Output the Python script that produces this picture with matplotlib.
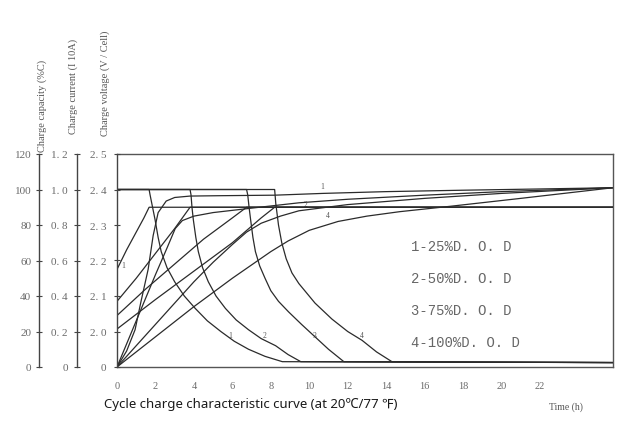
import numpy as np
import matplotlib
matplotlib.use("Agg")
import matplotlib.pyplot as plt

W, H = 643, 427
PX = 0.72  # points per pixel at dpi 100

# ---- data (hours, native units) ----
T_END = 25.8

# charge current (I10A)
cur1_t = [0, 1.67, 1.72, 1.85, 1.98, 2.14, 2.3, 2.6, 3.0, 3.5, 4.07, 4.7, 5.4, 6.1, 6.84, 7.7, 8.6, T_END]
cur1_i = [1.0, 1.0, 0.97, 0.9, 0.83, 0.73, 0.65, 0.56, 0.48, 0.40, 0.33, 0.26, 0.20, 0.145, 0.10, 0.06, 0.03, 0.025]
cur2_t = [0, 3.8, 3.85, 3.9, 3.97, 4.1, 4.23, 4.45, 4.75, 5.15, 5.64, 6.2, 6.84, 7.5, 8.25, 8.9, 9.56, T_END]
cur2_i = [1.0, 1.0, 0.97, 0.9, 0.83, 0.73, 0.65, 0.56, 0.48, 0.40, 0.33, 0.265, 0.21, 0.16, 0.12, 0.07, 0.03, 0.025]
cur3_t = [0, 6.74, 6.8, 6.87, 6.95, 7.07, 7.2, 7.42, 7.7, 8.0, 8.4, 8.93, 9.6, 10.3, 11.0, 11.8, T_END]
cur3_i = [1.0, 1.0, 0.97, 0.9, 0.83, 0.73, 0.65, 0.57, 0.50, 0.43, 0.37, 0.31, 0.24, 0.17, 0.10, 0.03, 0.025]
cur4_t = [0, 8.2, 8.26, 8.4, 8.57, 8.8, 9.1, 9.46, 10.3, 11.18, 12.0, 12.75, 13.5, 14.3, T_END]
cur4_i = [1.0, 1.0, 0.92, 0.8, 0.70, 0.61, 0.53, 0.47, 0.36, 0.27, 0.20, 0.15, 0.085, 0.03, 0.025]

# charge voltage (V/cell)
volt1_t = [0, 0.5, 1.0, 1.4, 1.67, T_END]
volt1_v = [2.175, 2.23, 2.28, 2.32, 2.35, 2.35]
volt2_t = [0, 1.0, 2.0, 3.0, 3.8, T_END]
volt2_v = [2.085, 2.15, 2.22, 2.29, 2.35, 2.35]
volt3_t = [0, 1.5, 3.0, 4.5, 6.0, 6.74, T_END]
volt3_v = [2.045, 2.12, 2.19, 2.26, 2.32, 2.35, 2.35]
volt4_t = [0, 2.0, 4.0, 6.0, 7.5, 8.2, T_END]
volt4_v = [2.007, 2.09, 2.17, 2.25, 2.32, 2.35, 2.35]

# charge capacity (%C)
cap1_t = [0, 0.5, 0.94, 1.25, 1.62, 1.88, 2.14, 2.56, 3.0, 3.8, 5.3, 8.2, 10.7, 14, 18, 22, T_END]
cap1_c = [0, 9, 21, 37, 55, 74, 87, 93.5, 95.5, 96.3, 96.5, 96.8, 97.8, 98.8, 99.6, 100.3, 101]
cap2_t = [0, 1, 2, 2.6, 3.03, 3.4, 4, 5, 7, 9.46, 12, 16, 20, T_END]
cap2_c = [0, 26, 52, 67, 78, 82.5, 85, 87, 89.5, 92.5, 94.5, 96.8, 98.8, 101]
cap3_t = [0, 1, 2, 3, 4, 5, 6, 6.74, 7.5, 8.5, 9.46, 12, 16, 20, T_END]
cap3_c = [0, 12, 24, 36, 48, 59, 69, 76, 81, 85, 88, 91.5, 95, 97.8, 101]
cap4_t = [0, 2, 4, 6, 8, 8.9, 10, 11.5, 13, 14.7, 17.3, 21, T_END]
cap4_c = [0, 17, 34, 50, 65, 71, 77, 82, 85, 87.5, 90.5, 95, 101]

X_TICKS = list(range(0, 23, 2))
CAP_TICKS = [0, 20, 40, 60, 80, 100, 120]
CAP_LABELS = ["0", "20", "40", "60", "80", "100", "120"]
CUR_TICKS = [0, 0.2, 0.4, 0.6, 0.8, 1.0, 1.2]
CUR_LABELS = ["0", "0. 2", "0. 4", "0. 6", "0. 8", "1. 0", "1. 2"]
VOLT_TICKS = [0, 2.0, 2.1, 2.2, 2.3, 2.4, 2.5]
VOLT_LABELS = ["0", "2. 0", "2. 1", "2. 2", "2. 3", "2. 4", "2. 5"]
LEGEND = ["1-25%D. O. D", "2-50%D. O. D", "3-75%D. O. D", "4-100%D. O. D"]


def v_fwd(v):
    v = np.asarray(v, dtype=float)
    return np.where(v >= 2.0, 20 + (v - 2.0) * 200, v * 10)


def v_inv(p):
    p = np.asarray(p, dtype=float)
    return np.where(p >= 20, 2.0 + (p - 20) / 200, p / 10)


LINE = "#2b2b2b"
TXT = "#6a6a6a"
LW = 0.9

fig = plt.figure(figsize=(W / 100, H / 100), dpi=100)
rect = [117 / W, 1 - 368 / H, 496 / W, 213 / H]

ax = fig.add_axes(rect)
ax_i = fig.add_axes(rect, sharex=ax)
ax_v = fig.add_axes(rect, sharex=ax)
for a in (ax_i, ax_v):
    a.patch.set_visible(False)
    a.xaxis.set_visible(False)
    for s in ("top", "right", "bottom"):
        a.spines[s].set_visible(False)

ax.set_xlim(0, T_END)
ax.set_ylim(0, 120)
ax_i.set_ylim(0, 1.2)
ax_v.set_yscale("function", functions=(v_fwd, v_inv))
ax_v.set_ylim(0, 2.5)

for t, c in [(cap1_t, cap1_c), (cap2_t, cap2_c), (cap3_t, cap3_c), (cap4_t, cap4_c)]:
    ax.plot(t, c, color=LINE, lw=LW)
for t, i in [(cur1_t, cur1_i), (cur2_t, cur2_i), (cur3_t, cur3_i), (cur4_t, cur4_i)]:
    ax_i.plot(t, i, color=LINE, lw=LW)
for t, v in [(volt1_t, volt1_v), (volt2_t, volt2_v), (volt3_t, volt3_v), (volt4_t, volt4_v)]:
    ax_v.plot(t, v, color=LINE, lw=LW)

# axes styling
for a, ticks, labels, off, pad in [
    (ax, CAP_TICKS, CAP_LABELS, 78, 3),
    (ax_i, CUR_TICKS, CUR_LABELS, 40, 4),
    (ax_v, VOLT_TICKS, VOLT_LABELS, 0, 5),
]:
    a.spines["left"].set_position(("outward", off * PX))
    a.spines["left"].set_color("#444444")
    a.spines["left"].set_linewidth(1.0)
    a.set_yticks(ticks)
    a.set_yticklabels(labels, family="Liberation Serif", fontsize=8, color=TXT)
    a.yaxis.set_minor_locator(plt.NullLocator())
    a.tick_params(axis="y", direction="inout", length=5, width=0.8, color="#444444", pad=pad)

for s in ("top", "right", "bottom"):
    ax.spines[s].set_color("#555555")
    ax.spines[s].set_linewidth(1.0)
ax.set_xticks(X_TICKS)
ax.set_xticklabels([str(x) for x in X_TICKS], family="Liberation Serif", fontsize=7.5, color=TXT)
ax.tick_params(axis="x", length=0, pad=10)

# curve labels
small = dict(family="Liberation Serif", fontsize=5.5, color="#555555")
for x, lab in zip([5.9, 7.7, 10.3, 12.75], ["1", "2", "3", "4"]):
    ax.text(x, 15.5, lab, ha="center", va="bottom", **small)
ax.text(10.66, 99.5, "1", ha="center", va="bottom", **small)
ax.text(9.8, 89.5, "2", ha="center", va="bottom", **small)
ax.text(10.97, 83.5, "4", ha="center", va="bottom", **small)
ax.text(0.3, 55, "1", ha="center", va="bottom", **small)

for k, lab in enumerate(LEGEND):
    fig.text(411 / W, 1 - (247 + 32 * k) / H, lab, family="Liberation Mono",
             fontsize=10, color="#666666", ha="left", va="center")

# rotated axis titles
ylab = dict(family="Liberation Serif", fontsize=7.5, color="#555555", rotation=90,
            ha="center", va="bottom")
fig.text(42 / W, 1 - 152 / H, "Charge capacity (%C)", **ylab)
fig.text(73 / W, 1 - 134 / H, "Charge current (I 10A)", **ylab)
fig.text(105 / W, 1 - 136 / H, "Charge voltage (V / Cell)", **ylab)

fig.text(566 / W, 1 - 407 / H, "Time (h)", family="Liberation Serif", fontsize=7,
         color="#555555", ha="center", va="center")
fig.text(251 / W, 1 - 405 / H, "Cycle charge characteristic curve (at 20\u2103/77 \u2109)",
         family=["Noto Sans", "DejaVu Sans"], fontsize=9.5, color="#1a1a1a",
         ha="center", va="center")

fig.savefig("out.png", dpi=100)
